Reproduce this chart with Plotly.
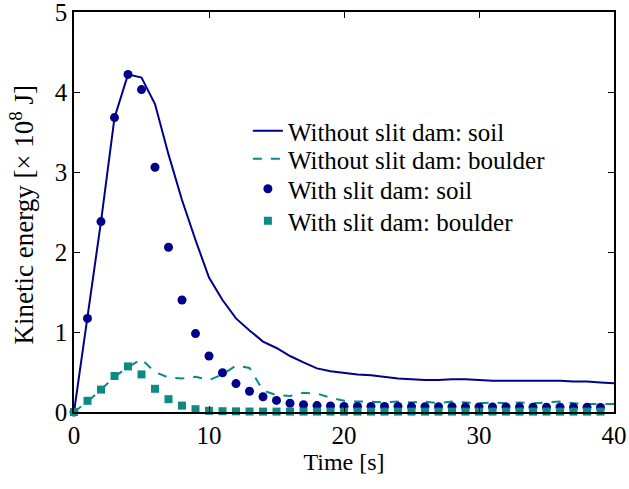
import plotly.graph_objects as go

t_line = list(range(0, 41))
soil_without = [0, 1.17, 2.38, 3.68, 4.22, 4.18, 3.85, 3.22, 2.65, 2.15, 1.68, 1.40, 1.17, 1.02, 0.88,
                0.80, 0.70, 0.62, 0.545, 0.51, 0.49, 0.47, 0.46, 0.44, 0.42, 0.41, 0.40, 0.40, 0.41,
                0.41, 0.40, 0.39, 0.39, 0.39, 0.39, 0.39, 0.39, 0.38, 0.38, 0.37, 0.36]
boulder_without = [0, 0.13, 0.28, 0.44, 0.56, 0.66, 0.50, 0.43, 0.42, 0.44, 0.40, 0.47, 0.58, 0.55,
                   0.27, 0.21, 0.20, 0.24, 0.23, 0.18, 0.14, 0.13, 0.13, 0.12, 0.13, 0.12, 0.13, 0.11,
                   0.13, 0.12, 0.11, 0.12, 0.11, 0.12, 0.11, 0.12, 0.13, 0.11, 0.10, 0.10, 0.10]
t_pts = list(range(0, 40))
soil_with = [0, 1.17, 2.38, 3.68, 4.22, 4.03, 3.06, 2.06, 1.40, 0.98, 0.70, 0.49, 0.355, 0.26, 0.19,
             0.145, 0.11, 0.09, 0.08, 0.075, 0.07, 0.07, 0.07, 0.07, 0.07, 0.068, 0.066, 0.065, 0.065,
             0.064, 0.063, 0.062, 0.062, 0.061, 0.06, 0.06, 0.06, 0.058, 0.058, 0.057]
boulder_with = [0, 0.14, 0.28, 0.45, 0.57, 0.47, 0.29, 0.16, 0.08, 0.035, 0.015, 0.01, 0.008, 0.006,
                0.005, 0.005, 0.005, 0.005, 0.005, 0.005, 0.005, 0.005, 0.005, 0.005, 0.005, 0.005,
                0.005, 0.005, 0.005, 0.005, 0.005, 0.005, 0.005, 0.005, 0.005, 0.005, 0.005, 0.005,
                0.005, 0.005]

NAVY = "#00008B"
TEAL = "#0B8A86"
FONT = "Times New Roman, Liberation Serif, serif"

fig = go.Figure()
fig.add_trace(go.Scatter(x=t_line, y=soil_without, mode="lines", name="Without slit dam: soil",
                         line=dict(color=NAVY, width=2), legend="legend"))
fig.add_trace(go.Scatter(x=t_line, y=boulder_without, mode="lines", name="Without slit dam: boulder",
                         line=dict(color=TEAL, width=2, dash="dash"), legend="legend2"))
fig.add_trace(go.Scatter(x=t_pts, y=soil_with, mode="markers", name="With slit dam: soil",
                         marker=dict(color=NAVY, size=9, symbol="circle"), cliponaxis=False,
                         legend="legend3"))
fig.add_trace(go.Scatter(x=t_pts, y=boulder_with, mode="markers", name="With slit dam: boulder",
                         marker=dict(color=TEAL, size=8, symbol="square"), cliponaxis=False,
                         legend="legend4"))

axis_common = dict(showline=True, linecolor="black", linewidth=1.5, mirror="ticks",
                   ticks="inside", ticklen=6, tickcolor="black", tickwidth=1.2,
                   showgrid=False, zeroline=False, ticklabeloverflow="allow", automargin=False,
                   tickfont=dict(family=FONT, size=25, color="black"))

legend_common = dict(x=0.322, xanchor="left", yanchor="middle", bgcolor="rgba(0,0,0,0)",
                     font=dict(family=FONT, size=25), itemwidth=30)

fig.update_layout(
    width=629, height=489,
    margin=dict(l=74, r=15, t=12, b=77),
    plot_bgcolor="white", paper_bgcolor="white",
    font=dict(family=FONT, size=24, color="black"),
    xaxis=dict(range=[0, 40], tickvals=[0, 10, 20, 30, 40],
               title=dict(text="Time [s]", font=dict(family=FONT, size=24), standoff=0),
               **axis_common),
    yaxis=dict(range=[0, 5], tickvals=[0, 1, 2, 3, 4, 5], **axis_common),
    legend=dict(y=0.7025, **legend_common),
    legend2=dict(y=0.6325, **legend_common),
    legend3=dict(y=0.5575, **legend_common),
    legend4=dict(y=0.4775, **legend_common),
    showlegend=True,
    annotations=[dict(text="Kinetic energy [× 10<sup>8</sup> J]", textangle=-90,
                      xref="paper", yref="paper", x=-0.096, y=0.494,
                      xanchor="center", yanchor="middle", showarrow=False,
                      font=dict(family=FONT, size=27, color="black"))],
)

fig.write_html("out.html")
